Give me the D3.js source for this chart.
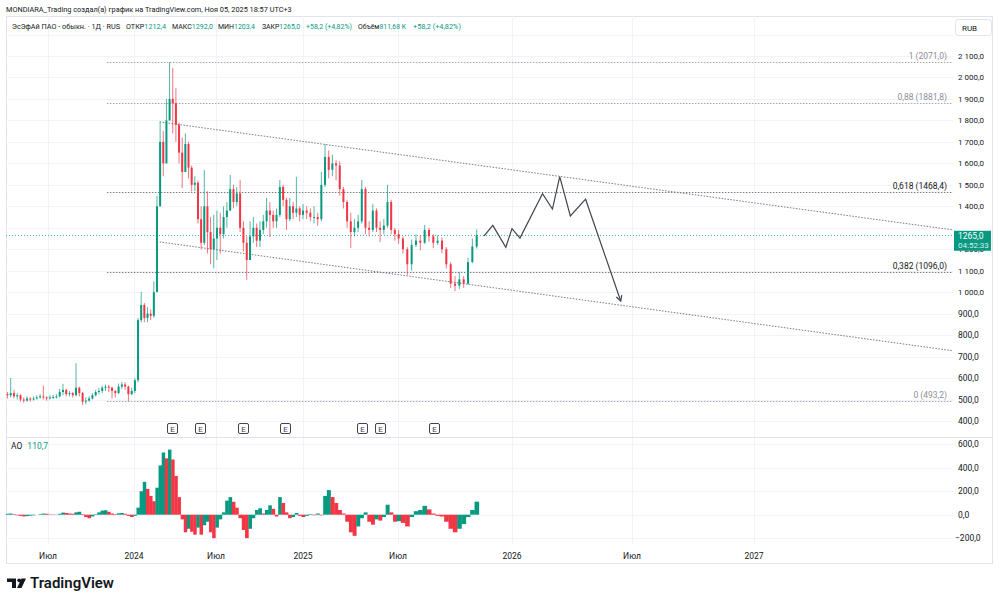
<!DOCTYPE html>
<html><head><meta charset="utf-8">
<script src="https://cdn.jsdelivr.net/npm/d3@7"></script>
<style>
body{margin:0;background:#fff;}
svg{display:block;font-family:Roboto,"Noto Sans",sans-serif;}
</style>
</head><body>
<svg id="c" width="1000" height="602"></svg>
<script>
// ---------------- DATA ----------------
const startDate = "2023-04-03"; // weekly candles, one per week
const firstOpen = 525;
const closes = [
 520,530,515,520,500,495,505,500,505,510,
 515,510,505,510,512,515,535,545,525,530,
 520,555,530,490,495,505,520,535,540,555,
 560,555,540,530,560,570,560,525,540,590,
 870,940,880,900,890,1000,1400,1700,1600,1800,
 1900,1880,1780,1650,1560,1690,1580,1500,1510,1340,
 1230,1400,1280,1200,1250,1300,1270,1350,1380,1480,
 1420,1460,1300,1230,1150,1260,1300,1240,1290,1330,
 1380,1360,1330,1360,1490,1430,1340,1400,1370,1390,
 1360,1380,1370,1350,1350,1340,1500,1630,1570,1600,
 1590,1480,1420,1330,1280,1300,1330,1480,1300,1290,
 1380,1300,1290,1310,1420,1290,1270,1250,1200,1130,
 1220,1240,1230,1290,1260,1230,1240,1200,1130,1040,
 1030,1060,1040,1140,1212.4,1265
];
const highs = [
 535,600,545,530,525,510,515,510,515,520,
 525,565,515,520,522,525,550,573,550,540,
 535,670,560,535,510,515,530,545,555,565,
 570,568,560,545,575,582,580,565,555,600,
 880,1001,950,930,920,1050,1450,1794,1750,1900,
 2071,2044,1950,1790,1720,1740,1700,1590,1540,1520,
 1400,1569,1470,1350,1360,1380,1370,1400,1420,1546,
 1500,1490,1523,1330,1260,1330,1350,1320,1330,1360,
 1440,1420,1380,1390,1523,1500,1440,1440,1420,1537,
 1400,1410,1400,1390,1400,1370,1560,1690,1660,1640,
 1615,1610,1490,1430,1370,1340,1360,1523,1490,1330,
 1410,1390,1330,1340,1500,1430,1300,1290,1260,1210,
 1245,1270,1265,1313,1300,1270,1265,1255,1210,1140,
 1075,1095,1075,1160,1250,1292
];
const lows = [
 505,510,505,500,490,485,490,490,495,500,
 505,500,495,500,502,505,510,520,515,515,
 510,515,515,475,478,490,500,515,525,530,
 540,535,505,510,525,550,545,493,520,530,
 580,860,860,860,870,880,1000,1400,1540,1600,
 1800,1740,1700,1600,1485,1560,1530,1470,1470,1320,
 1200,1220,1180,1130,1110,1150,1180,1250,1300,1380,
 1390,1400,1280,1190,1057,1150,1230,1210,1210,1270,
 1300,1257,1300,1300,1350,1400,1290,1330,1340,1350,
 1330,1340,1340,1330,1320,1310,1330,1490,1530,1540,
 1520,1450,1390,1300,1206,1260,1280,1320,1270,1260,
 1280,1280,1234,1270,1300,1270,1240,1225,1180,1080,
 1100,1210,1195,1225,1235,1205,1220,1180,1110,1020,
 1005,1015,1020,1035,1135,1203.4
];
const aoValues = [
 8,10,5,-5,-10,-15,-12,-8,-5,0,
 5,10,8,3,-3,2,8,18,15,10,
 8,20,25,5,-20,-30,-15,5,20,35,
 38,25,10,5,12,15,8,-10,-20,-10,
 60,200,280,220,160,115,230,420,530,480,
 555,470,330,150,-40,-150,-120,-145,-170,-110,
 -170,-90,-60,-150,-200,-110,-40,20,120,150,
 110,60,-30,-130,-200,-120,-30,40,55,10,
 40,80,50,-15,150,100,20,-30,-20,15,
 -10,-20,-10,5,-5,10,-5,160,210,150,
 100,40,10,-60,-150,-180,-100,-30,20,-60,
 -85,-40,-50,-20,85,20,-60,-55,-70,-100,
 -20,30,40,75,45,10,-10,-15,-60,-120,
 -150,-120,-80,-20,40,110.7
];
const priceTicks = [400,500,600,700,800,900,1000,1100,1200,1300,1400,1500,1600,1700,1800,1900,2000,2100,2200];
const aoTicks = [-200,0,200,400,600];
const timeTicks = ["2023-07-01","2024-01-01","2024-07-01","2025-01-01","2025-07-01","2026-01-01","2026-07-01","2027-01-01"];
const timeTickLabels = ["Июл","2024","Июл","2025","Июл","2026","Июл","2027"];
const fibRatios = ["1","0,88","0,618","0,382","0"];
const fibValues = [2071.0,1881.8,1468.4,1096.0,493.2];
const fibStart = "2023-11-04";
const channelUpper = [["2024-02-27",1793],["2027-10-28",1290]];
const channelLower = [["2024-02-27",1234],["2027-10-28",727]];
const projection = [
 ["2025-11-17",1262],["2025-12-01",1311],["2025-12-22",1209],["2026-01-01",1296],
 ["2026-01-13",1252],["2026-02-16",1459],["2026-03-03",1387],["2026-03-14",1538],
 ["2026-03-30",1355],["2026-04-22",1433],["2026-06-14",959]
];
const earnings = ["2024-03-25","2024-05-26","2024-08-27","2024-11-24","2025-04-23","2025-05-28","2025-08-28"];
const lastPrice = 1265.0;
const lastCountdown = "04:52:33";
const aoLast = "110,7";
const headerText = "MONDIARA_Trading создал(а) график на TradingView.com, Ноя 05, 2025 18:57 UTC+3";
const legendParts = [
 ["ЭсЭфАй ПАО - обыкн. · 1Д · RUS",""],["ОТКР","1212,4"],["МАКС","1292,0"],["МИН","1203,4"],
 ["ЗАКР","1265,0"],["","+58,2 (+4,82%)"],["Объём","811,68 K"],["","+58,2 (+4,82%)"]
];

// ---------------- LAYOUT ----------------
const UP="#089981", DN="#F23645", TXT="#131722", GRID="#f0f3fa";
const plotL=6, plotR=953, mainTop=16, mainBot=437, aoBot=545, frameR=993, frameBot=564;
const parse = d3.timeParse("%Y-%m-%d");
const svg = d3.select("#c");

const x = d3.scaleTime()
  .domain(["2023-04-03","2023-07-01","2024-01-01","2024-07-01","2025-01-01","2025-07-01","2026-01-01","2026-07-01","2027-01-01","2027-10-28"].map(parse))
  .range([6.5,48,134,216,303,398,512,632,754,953]);
const y = d3.scaleLinear().domain([400,2100]).range([421,56]);
const yAO = d3.scaleLinear().domain([0,600]).range([514.7,444.3]);

const numFmt = d3.formatLocale({decimal:",",thousands:" ",grouping:[3],currency:["",""]});
const fAxis = numFmt.format(",.1f");
const fPlain = numFmt.format(".1f");

const start = parse(startDate);
const candles = closes.map((c,i)=>{
  const o = i===0 ? firstOpen : closes[i-1];
  return {date:d3.timeDay.offset(start,7*i+2), o, c, h:Math.max(highs[i],o,c), l:Math.min(lows[i],o,c)};
});

// shrink font-size until text fits a width
function fitFont(sel, w){
  const n = sel.node();
  const fs = +sel.attr("font-size");
  const len = n.getComputedTextLength();
  if(len > w){ sel.attr("font-size", (fs*w/len).toFixed(2)); }
  return sel;
}

// frame
svg.append("rect").attr("x",plotL+0.5).attr("y",mainTop+0.5).attr("width",frameR-plotL-1).attr("height",frameBot-mainTop-1)
  .attr("fill","none").attr("stroke","#e0e3eb");

// grid
const gGrid = svg.append("g");
timeTicks.forEach(t=>{
  const xx = Math.round(x(parse(t)))+0.5;
  gGrid.append("line").attr("x1",xx).attr("x2",xx).attr("y1",mainTop).attr("y2",aoBot).attr("stroke",GRID);
});
priceTicks.forEach(p=>{
  const yy = Math.round(y(p))+0.5;
  gGrid.append("line").attr("x1",plotL).attr("x2",plotR).attr("y1",yy).attr("y2",yy).attr("stroke",GRID);
});
aoTicks.forEach(v=>{
  const yy = Math.round(yAO(v))+0.5;
  gGrid.append("line").attr("x1",plotL).attr("x2",plotR).attr("y1",yy).attr("y2",yy).attr("stroke",GRID);
});
svg.append("line").attr("x1",plotL).attr("x2",frameR).attr("y1",mainBot+0.5).attr("y2",mainBot+0.5).attr("stroke","#e0e3eb");

// clip
svg.append("clipPath").attr("id","mainClip").append("rect").attr("x",plotL).attr("y",mainTop).attr("width",plotR-plotL).attr("height",mainBot-mainTop);
const gMain = svg.append("g").attr("clip-path","url(#mainClip)");

// fib lines
fibValues.forEach((v,i)=>{
  const key = (fibRatios[i]==="0,618"||fibRatios[i]==="0,382");
  const yy = Math.round(y(v))+0.5;
  gMain.append("line").attr("x1",x(parse(fibStart))).attr("x2",plotR).attr("y1",yy).attr("y2",yy)
    .attr("stroke", key?"#787b86":"#a3a6af").attr("stroke-dasharray","1.5,1.5");
  gMain.append("text").attr("x",947).attr("y",yy-3.5).attr("text-anchor","end")
    .attr("font-size",8.5).attr("fill", key?TXT:"#8c8f99")
    .text(`${fibRatios[i]} (${fPlain(v)})`);
});

// channel lines
[channelUpper,channelLower].forEach(ch=>{
  gMain.append("line")
    .attr("x1",x(parse(ch[0][0]))).attr("y1",y(ch[0][1]))
    .attr("x2",x(parse(ch[1][0]))).attr("y2",y(ch[1][1]))
    .attr("stroke","#787b86").attr("stroke-dasharray","1.5,1.5");
});

// current price line
const yLast = Math.round(y(lastPrice))+0.5;
gMain.append("line").attr("x1",plotL).attr("x2",plotR).attr("y1",yLast).attr("y2",yLast)
  .attr("stroke",UP).attr("stroke-opacity",0.75).attr("stroke-dasharray","1,2");

// candles
const gC = gMain.append("g");
candles.forEach(d=>{
  const col = d.c>=d.o?UP:DN;
  const cx = x(d.date);
  gC.append("line").attr("x1",cx).attr("x2",cx).attr("y1",y(d.h)).attr("y2",y(d.l)).attr("stroke",col).attr("stroke-width",1).attr("stroke-opacity",0.7);
  const top = y(Math.max(d.o,d.c)), bot = y(Math.min(d.o,d.c));
  gC.append("rect").attr("x",cx-1).attr("width",2).attr("y",top).attr("height",Math.max(1,bot-top)).attr("fill",col);
});

// projection path
const projPts = projection.map(p=>[x(parse(p[0])),y(p[1])]);
gMain.append("path").attr("d",d3.line()(projPts)).attr("fill","none").attr("stroke","#434651").attr("stroke-width",1.2);
{
  const a = projPts[projPts.length-2], b = projPts[projPts.length-1];
  const ang = Math.atan2(b[1]-a[1], b[0]-a[0]);
  const L=6, sp=0.5;
  const p1=[b[0]-L*Math.cos(ang-sp), b[1]-L*Math.sin(ang-sp)];
  const p2=[b[0]-L*Math.cos(ang+sp), b[1]-L*Math.sin(ang+sp)];
  gMain.append("path").attr("d",`M${p1}L${b}L${p2}`).attr("fill","none").attr("stroke","#434651").attr("stroke-width",1.2);
}

// earnings markers
earnings.forEach(e=>{
  const cx = Math.round(x(parse(e)));
  gMain.append("rect").attr("x",cx-4.5).attr("y",423.5).attr("width",10).attr("height",10).attr("rx",1.5)
    .attr("fill","#fff").attr("stroke","#434651").attr("stroke-width",1);
  gMain.append("text").attr("x",cx+0.5).attr("y",431.5).attr("text-anchor","middle").attr("font-size",8).attr("fill","#434651").text("E");
});

// AO histogram
const gAO = svg.append("g");
candles.forEach((d,i)=>{
  const v = aoValues[i];
  const prev = i>0?aoValues[i-1]:v;
  const col = v>=prev?UP:DN;
  const cx = x(d.date);
  const nx = i<candles.length-1 ? x(candles[i+1].date) : cx+ (cx - x(candles[i-1].date));
  const px = i>0 ? x(candles[i-1].date) : cx-(nx-cx);
  const x0 = (px+cx)/2, x1 = (cx+nx)/2;
  const y0 = yAO(0), y1 = yAO(v);
  gAO.append("rect").attr("x",x0).attr("width",Math.max(0.8,x1-x0+0.3))
    .attr("y",Math.min(y0,y1)).attr("height",Math.abs(y1-y0)).attr("fill",col);
});

// price axis labels
const gAx = svg.append("g").attr("fill",TXT);
priceTicks.filter(p=>p<=2100).forEach(p=>{
  const t = gAx.append("text").attr("x",958).attr("y",y(p)+3).attr("font-size",8.5).text(fAxis(p));
  fitFont(t, 26);
  if(Math.abs(y(p)-y(lastPrice))<10){
    // mostly hidden under the last-price badge, as in the reference
    svg.append("clipPath").attr("id","lblClip").append("rect").attr("x",955).attr("y",y(lastPrice)+15.5).attr("width",40).attr("height",6);
    t.attr("clip-path","url(#lblClip)");
  }
});
aoTicks.forEach(v=>{
  gAx.append("text").attr("x",v<0?955:958).attr("y",yAO(v)+3).attr("font-size",8.5).text(fAxis(v).replace("-","\u2212"));
});
// time axis labels
const gT = svg.append("g").attr("font-size",8.5).attr("fill",TXT).attr("text-anchor","middle");
timeTicks.forEach((t,i)=>{
  gT.append("text").attr("x",x(parse(t))).attr("y",559).text(timeTickLabels[i]);
});

// last price label
svg.append("rect").attr("x",954).attr("y",y(lastPrice)-4.5).attr("width",37).attr("height",20).attr("fill",UP);
svg.append("text").attr("x",958).attr("y",y(lastPrice)+4).attr("font-size",8.5).attr("fill","#fff").text(fPlain(lastPrice));
svg.append("text").attr("x",958).attr("y",y(lastPrice)+13).attr("font-size",8).attr("fill","#fff").attr("fill-opacity",0.85).text(lastCountdown);

// RUB box
svg.append("rect").attr("x",955.5).attr("y",19.5).attr("width",36).attr("height",16).attr("rx",3).attr("fill","#fff").attr("stroke","#e0e3eb");
svg.append("text").attr("x",962).attr("y",30.5).attr("font-size",8).attr("fill",TXT).text("RUB");

// header
fitFont(svg.append("text").attr("x",6).attr("y",11.5).attr("font-size",8.5).attr("fill",TXT).text(headerText), 286);

// legend
const legX = [12,126,172,218,262,306,358,413];
const legW = [108,40,41,37,38,46,48,48];
legendParts.forEach((p,i)=>{
  const t = svg.append("text").attr("x",legX[i]).attr("y",28.5).attr("font-size",8.2);
  if(p[0]) t.append("tspan").attr("fill",TXT).text(p[0]);
  if(p[1]) t.append("tspan").attr("fill",UP).text(p[1]);
  fitFont(t, legW[i]);
});

// AO label
const aoT = svg.append("text").attr("x",11).attr("y",449).attr("font-size",8.5);
aoT.append("tspan").attr("fill",TXT).text("AO");
aoT.append("tspan").attr("fill",UP).attr("dx",5).text(aoLast);

// TradingView logo
const gL = svg.append("g").attr("fill",TXT);
gL.append("path").attr("d","M7,578.5 H16 V588 H12 V582 H7 Z");
gL.append("circle").attr("cx",19.2).attr("cy",580.3).attr("r",1.9);
gL.append("path").attr("d","M21.5,578.5 H26 L21.5,588 H17 Z");
svg.append("text").attr("x",30).attr("y",588).attr("font-size",15).attr("font-weight",600).attr("fill",TXT).text("TradingView");
</script>
</body></html>
